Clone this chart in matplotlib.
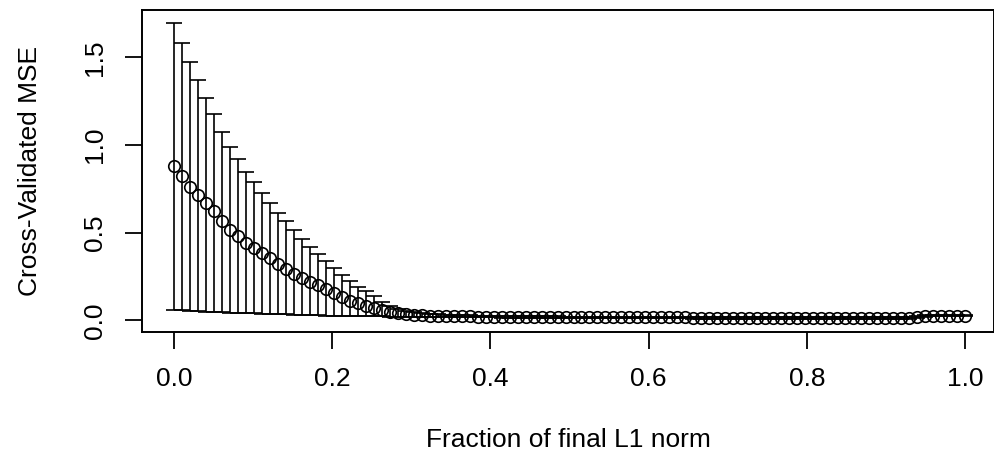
import numpy as np
import matplotlib
matplotlib.use("Agg")
import matplotlib.pyplot as plt

plt.rcParams['font.family'] = ['Liberation Sans', 'DejaVu Sans']

# fraction of final L1 norm: 100 equally spaced steps, as in lars cv
n_points = 100
fraction = np.linspace(0, 1, n_points)

# cross-validated MSE
cv = [0.881, 0.822, 0.763, 0.714, 0.668, 0.621, 0.566, 0.517, 0.481, 0.443,
      0.414, 0.382, 0.354, 0.324, 0.293, 0.264, 0.243, 0.220, 0.201, 0.177,
      0.158, 0.135, 0.112, 0.100, 0.083, 0.072, 0.059, 0.046, 0.040, 0.035,
      0.031, 0.028, 0.026, 0.025, 0.024, 0.023, 0.022, 0.022, 0.021, 0.021,
      0.021, 0.020, 0.020, 0.020, 0.019, 0.019, 0.018, 0.018, 0.017, 0.016,
      0.016, 0.016, 0.016, 0.016, 0.016, 0.016, 0.016, 0.016, 0.016, 0.016,
      0.016, 0.016, 0.016, 0.016, 0.016, 0.014, 0.014, 0.013, 0.013, 0.013,
      0.013, 0.013, 0.013, 0.013, 0.013, 0.013, 0.013, 0.013, 0.013, 0.013,
      0.013, 0.013, 0.013, 0.013, 0.013, 0.013, 0.013, 0.013, 0.013, 0.013,
      0.013, 0.013, 0.014, 0.018, 0.024, 0.026, 0.026, 0.026, 0.026, 0.026]

# top of error bars
cv_upper = [1.699, 1.581, 1.473, 1.372, 1.271, 1.176, 1.076, 0.989, 0.919, 0.848,
            0.789, 0.728, 0.671, 0.614, 0.567, 0.515, 0.464, 0.417, 0.377, 0.337,
            0.297, 0.259, 0.224, 0.190, 0.167, 0.140, 0.106, 0.080, 0.062, 0.052,
            0.045, 0.040, 0.036, 0.034, 0.032, 0.031, 0.028, 0.028, 0.027, 0.027,
            0.026, 0.025, 0.025, 0.025, 0.024, 0.024, 0.023, 0.023, 0.022, 0.020,
            0.020, 0.020, 0.020, 0.020, 0.020, 0.020, 0.020, 0.020, 0.020, 0.020,
            0.020, 0.020, 0.020, 0.020, 0.020, 0.018, 0.018, 0.017, 0.017, 0.017,
            0.017, 0.017, 0.017, 0.017, 0.017, 0.017, 0.017, 0.017, 0.017, 0.017,
            0.017, 0.017, 0.017, 0.017, 0.017, 0.017, 0.017, 0.017, 0.017, 0.017,
            0.017, 0.017, 0.018, 0.022, 0.028, 0.030, 0.030, 0.030, 0.030, 0.030]

# bottom of error bars
cv_lower = [0.058, 0.056, 0.054, 0.052, 0.050, 0.048, 0.046, 0.044, 0.043, 0.041,
            0.039, 0.038, 0.036, 0.035, 0.034, 0.032, 0.031, 0.030, 0.029, 0.027,
            0.026, 0.025, 0.024, 0.023, 0.023, 0.022, 0.022, 0.021, 0.020, 0.019,
            0.019, 0.018, 0.018, 0.017, 0.017, 0.016, 0.017, 0.017, 0.016, 0.016,
            0.016, 0.015, 0.015, 0.015, 0.014, 0.014, 0.013, 0.013, 0.012, 0.012,
            0.012, 0.012, 0.012, 0.012, 0.012, 0.012, 0.012, 0.012, 0.012, 0.012,
            0.012, 0.012, 0.012, 0.012, 0.012, 0.010, 0.010, 0.009, 0.009, 0.009,
            0.009, 0.009, 0.009, 0.009, 0.009, 0.009, 0.009, 0.009, 0.009, 0.009,
            0.009, 0.009, 0.009, 0.009, 0.009, 0.009, 0.009, 0.009, 0.009, 0.009,
            0.009, 0.009, 0.010, 0.014, 0.020, 0.022, 0.022, 0.022, 0.022, 0.022]

x_ticks = [0.0, 0.2, 0.4, 0.6, 0.8, 1.0]
y_ticks = [0.0, 0.5, 1.0, 1.5]


def main():
    cv_a = np.array(cv)
    up = np.array(cv_upper)
    lo = np.array(cv_lower)

    fig = plt.figure(figsize=(9.95, 4.69), dpi=100)
    ax = fig.add_axes([142 / 995, (469 - 332) / 469, (994.5 - 142) / 995, 322 / 469])

    ax.errorbar(fraction, cv_a, yerr=[cv_a - lo, up - cv_a], fmt='none',
                ecolor='black', elinewidth=1.2, capsize=6.1, capthick=1.2)
    ax.plot(fraction, cv_a, 'o', mfc='none', mec='black', ms=8.3, mew=1.2)

    ax.set_xlim(-0.0405, 1.0373)
    ax.set_ylim(-0.067, 1.771)

    ax.set_xticks(x_ticks)
    ax.set_xticklabels([f'{t:.1f}' for t in x_ticks])
    ax.set_yticks(y_ticks)
    ax.set_yticklabels([f'{t:.1f}' for t in y_ticks], rotation=90, va='center')

    ax.tick_params(direction='out', length=12, width=1.3, labelsize=19,
                   colors='black')
    ax.tick_params(axis='x', pad=13.5)
    ax.tick_params(axis='y', pad=13.5)

    for s in ax.spines.values():
        s.set_linewidth(1.4)

    ax.set_xlabel('Fraction of final L1 norm', fontsize=19, labelpad=26)
    ax.set_ylabel('Cross-Validated MSE', fontsize=19, labelpad=29)

    fig.savefig('out.png', dpi=100)


if __name__ == '__main__':
    main()
